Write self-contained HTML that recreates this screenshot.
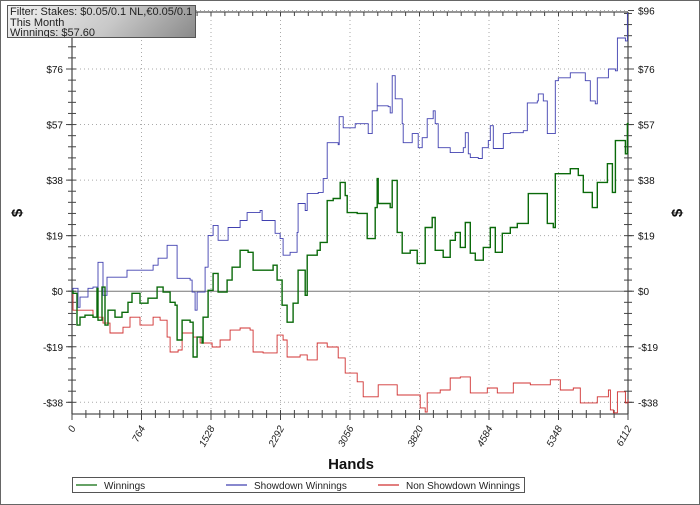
<!DOCTYPE html>
<html><head><meta charset="utf-8"><style>
html,body{margin:0;padding:0;background:#fff;}
#wrap{position:relative;width:700px;height:505px;overflow:hidden;}
svg{position:absolute;left:0;top:0;font-family:"Liberation Sans",sans-serif;}
#filter{position:absolute;left:7px;top:5px;width:189px;height:33px;border:1px solid #555;background:linear-gradient(135deg,#f2f2f2 0%,#c8c8c8 55%,#8a8a8a 100%);font-family:"Liberation Sans",sans-serif;font-size:11px;line-height:10.7px;color:#222;padding-left:2px;padding-top:1px;box-sizing:border-box;white-space:nowrap;overflow:hidden;}
</style></head><body>
<div id="wrap">
<svg id="chart" width="700" height="505"></svg>
<div id="filter">Filter: Stakes: $0.05/0.1 NL,€0.05/0.1 NL,<br>This Month<br>Winnings: $57.60</div>
</div>
<script>
const xTicks=[0,764,1528,2292,3056,3820,4584,5348,6112];
const yTicks=[-38,-19,0,19,38,57,76,96];
const winHands=[0,11,55,88,143,231,275,286,330,363,396,473,550,616,660,748,836,935,1001,1078,1133,1155,1210,1298,1331,1375,1430,1441,1496,1551,1606,1705,1760,1848,1936,1991,2101,2211,2255,2310,2365,2431,2486,2563,2585,2695,2728,2805,2805,2871,2948,3003,3025,3135,3245,3333,3355,3366,3498,3520,3575,3630,3718,3795,3883,3960,3993,4081,4158,4213,4268,4323,4378,4433,4521,4598,4653,4730,4818,4895,5005,5016,5203,5225,5291,5313,5478,5566,5621,5720,5775,5885,5940,5973,6083,6105,6112];
const winVals=[0,-0.7,-11.6,-8.9,-8.2,-8.9,1,-9.9,1.4,-11.6,-6.5,-8.9,-7.2,-3.8,-0.7,-4.1,-2.4,1.4,-0.3,-3.8,-4.8,-16.7,-9.9,-10.6,-22.5,-15.7,-17.7,-8.9,0.3,6.1,-0.3,3.8,8.2,14,13.3,7.2,7.2,8.9,3.8,-4.8,-10.6,-4.1,7.2,-1.4,12.3,14,16.7,20.1,31,31.7,37.2,32.7,26.9,26.6,18,28.6,38.5,30,28.6,37.9,20.1,13,14,9.5,21.8,25.2,14,11.6,17.4,20.1,15,23.5,13,10.6,15,21.8,13.3,19.8,21.8,23.2,23.2,33.4,33.4,23.2,21.8,40.2,41.9,39.6,33.8,28.6,37.2,43.6,33.8,51.5,47,57.3,57.6];
const sdHands=[0,11,66,88,176,231,275,286,330,341,385,605,748,891,946,1045,1155,1155,1298,1320,1353,1375,1441,1463,1496,1551,1606,1705,1716,1848,1925,2068,2090,2233,2288,2321,2398,2475,2486,2563,2585,2706,2761,2805,2805,2926,2937,2981,3058,3113,3245,3256,3300,3333,3355,3355,3476,3498,3520,3553,3630,3641,3740,3806,3850,3905,3971,3993,4026,4158,4301,4323,4356,4378,4466,4510,4576,4598,4631,4741,4818,4961,5005,5115,5126,5181,5225,5291,5313,5346,5478,5566,5643,5698,5753,5775,5896,5973,5995,6083,6105,6112];
const sdVals=[0,1,-5.5,-2,1,1.4,1.4,9.9,9.9,-1.4,4.8,7.2,7.2,8.9,11.3,15.7,15.7,4.4,3.8,-0.3,-6.5,-0.3,-0.3,8.2,19.1,22.5,17.4,17.4,21.8,24.2,26.9,27.6,24.2,19.8,18,12.3,13.3,20.1,30,27.6,33.4,33.8,38.5,41.3,50.8,50.1,59.7,55.9,55.9,57.3,57.3,53.9,61.7,61.7,71.3,63.4,63.1,61,73.7,65.8,57.3,50.8,53.9,49.1,52.5,59,61.7,57.3,49.1,47.4,49.1,54.2,47,45.7,45.4,49.1,51.5,56.6,48.8,53.9,54.2,54.9,64.4,65.1,67.5,65.1,53.9,53.9,72,73,74.7,74.7,72,65.1,64.1,73,76,75.4,86.6,85.6,95,95];
const nsdHands=[0,11,231,341,418,561,638,748,891,968,1045,1078,1166,1210,1331,1408,1540,1628,1738,1848,1958,1991,2101,2255,2321,2365,2508,2585,2695,2805,2926,3003,3135,3201,3366,3575,3828,3883,3905,4048,4158,4268,4378,4565,4675,4851,5038,5258,5368,5511,5588,5775,5896,5918,5951,5995,6083,6112];
const nsdVals=[0,-6.5,-8.9,-10.9,-14.3,-12.3,-8.9,-11.6,-8.9,-9.9,-15.7,-20.8,-20.1,-14.3,-15.7,-17.7,-19.1,-16.7,-13.3,-12.6,-13.3,-20.8,-21.1,-15,-16.7,-22.5,-21.8,-23.5,-17.7,-19.1,-22.8,-28,-31,-36.1,-32,-35.5,-39.9,-41.3,-34.8,-33.8,-29.7,-29.3,-34.8,-33.1,-34.8,-31.4,-32,-30.3,-33.8,-33.1,-38.2,-36.1,-33.8,-40.6,-41.6,-34.4,-38.2,-37];

const L=72,R=628,T=12,B=414,XMAX=6112,YMIN=-42,YMAX=95.5;
const xs=h=>L+h/XMAX*(R-L);
const ys=v=>T+(YMAX-v)/(YMAX-YMIN)*(B-T);
const svg=document.getElementById('chart');
const NS='http://www.w3.org/2000/svg';
function mk(tag,attrs,parent){const e=document.createElementNS(NS,tag);for(const k in attrs)e.setAttribute(k,attrs[k]);(parent||svg).appendChild(e);return e;}

let e=mk('rect',{x:0.5,y:0.5,width:699,height:504,fill:'none',stroke:'#666'});



yTicks.forEach(v=>{if(v===0)return;const g=mk('line',{x1:L,x2:R,y1:ys(v),y2:ys(v),stroke:'#aaa','stroke-dasharray':'1,3'});

});
xTicks.forEach(h=>{const g=mk('line',{x1:xs(h),x2:xs(h),y1:T,y2:B,stroke:'#aaa','stroke-dasharray':'1,3'});

});
e=mk('line',{x1:L,x2:R,y1:ys(0),y2:ys(0),stroke:'#777','stroke-width':1});



[[L,T,L,B],[R,T,R,B],[L,T,R,T],[L,B,R,B]].forEach(a=>{const l=mk('line',{x1:a[0],y1:a[1],x2:a[2],y2:a[3],stroke:'#555','stroke-width':1.3});

});
for(let v=-38;v<=96;v+=3.8){const y=ys(v);if(y<T-1||y>B)continue;
[[L-4,L+4],[R-4,R+4]].forEach(p=>{const t=mk('line',{x1:p[0],x2:p[1],y1:y,y2:y,stroke:'#444'});

});}
yTicks.forEach(v=>{const y=ys(v);
const t=mk('line',{x1:L-6,x2:L,y1:y,y2:y,stroke:'#444'});
const t2=mk('line',{x1:R,x2:R+6,y1:y,y2:y,stroke:'#444'});
const lab=(v<0?'-$':'$')+Math.abs(v);
const a=mk('text',{x:L-9,y:y+4,'text-anchor':'end','font-size':10,fill:'#111'});a.textContent=lab;


const b=mk('text',{x:R+10,y:y+4,'font-size':10,fill:'#111'});b.textContent=lab;

});
for(let i=0;i<=40;i++){const h=i*XMAX/40,x=xs(h);const major=i%5===0;
const t=mk('line',{x1:x,x2:x,y1:B-4,y2:B+(major?6:4),stroke:'#444'});


const t2=mk('line',{x1:x,x2:x,y1:T,y2:T+4,stroke:'#444'});

}
xTicks.forEach(h=>{const x=xs(h);const tx=mk('text',{x:x+4,y:428,'text-anchor':'end','font-size':10,'font-style':'italic',fill:'#222',transform:`rotate(-62 ${x+4} 428)`});tx.textContent=h;

});

function series(hs,vs,color,name,w){let d='M'+xs(hs[0]).toFixed(1)+','+ys(vs[0]).toFixed(1);
for(let i=1;i<hs.length;i++){d+='H'+xs(hs[i]).toFixed(1)+'V'+ys(vs[i]).toFixed(1);}
const p=mk('path',{d:d,fill:'none',stroke:color,'stroke-width':w});

}
series(nsdHands,nsdVals,'#d03030','non-showdown-winnings-line',0.9);
series(sdHands,sdVals,'#4040b0','showdown-winnings-line',0.9);
series(winHands,winVals,'#0a6a0a','winnings-line',1.4);

let t=mk('text',{x:351,y:469,'text-anchor':'middle','font-size':15,'font-weight':'bold',fill:'#111'});t.textContent='Hands';


t=mk('text',{x:0,y:0,'text-anchor':'middle','font-size':15,'font-weight':'bold',fill:'#111',transform:'translate(22,213) rotate(-90)'});t.textContent='$';


t=mk('text',{x:0,y:0,'text-anchor':'middle','font-size':15,'font-weight':'bold',fill:'#111',transform:'translate(682,213) rotate(-90)'});t.textContent='$';



const lg=mk('g',{});


mk('rect',{x:72.5,y:477.5,width:452,height:15,fill:'#fff',stroke:'#555'},lg);
const legNames=['Winnings','Showdown Winnings','Non Showdown Winnings'];
const legColors=['#0a6a0a','#4040b0','#d03030'];
const legX=[76,226,378];
legNames.forEach((n,i)=>{const g=mk('g',{},lg);


mk('line',{x1:legX[i],x2:legX[i]+21,y1:485,y2:485,stroke:legColors[i],'stroke-width':1.3},g);
const tt=mk('text',{x:legX[i]+28,y:489,'font-size':10,fill:'#222'},g);tt.textContent=n;});
</script>
</body></html>
